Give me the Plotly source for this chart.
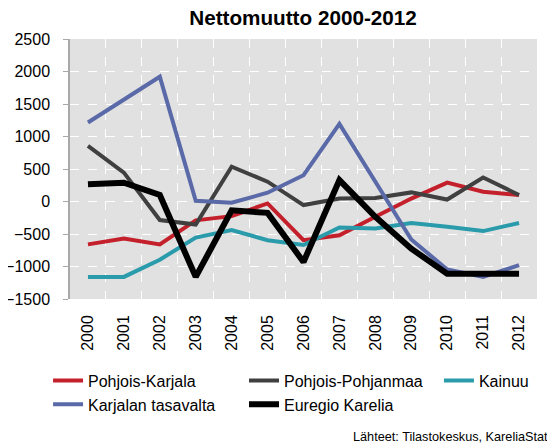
import plotly.graph_objects as go

years = ["2000", "2001", "2002", "2003", "2004", "2005", "2006",
         "2007", "2008", "2009", "2010", "2011", "2012"]

pohjois_karjala = [-660, -570, -660, -290, -225, -30, -595, -520, -235, 45, 290, 150, 100]
pohjois_pohjanmaa = [855, 445, -285, -355, 535, 305, -55, 45, 55, 140, 30, 370, 100]
kainuu = [-1160, -1160, -895, -555, -440, -595, -670, -400, -415, -330, -390, -455, -330]
karjalan_tasavalta = [1215, 1565, 1920, 10, -20, 135, 405, 1195, 305, -585, -1045, -1160, -980]
euregio_karelia = [265, 290, 100, -1160, -135, -175, -930, 330, -235, -725, -1110, -1110, -1110]

series = [
    ("Pohjois-Karjala", pohjois_karjala, "#c4202b", 4, "legend"),
    ("Pohjois-Pohjanmaa", pohjois_pohjanmaa, "#404040", 4, "legend2"),
    ("Kainuu", kainuu, "#2a9bab", 4, "legend3"),
    ("Karjalan tasavalta", karjalan_tasavalta, "#5a69a8", 4, "legend"),
    ("Euregio Karelia", euregio_karelia, "#000000", 6, "legend2"),
]

fig = go.Figure()
for name, vals, color, w, lg in series:
    fig.add_trace(go.Scatter(
        x=years, y=vals, mode="lines", name=name,
        line=dict(color=color, width=w), legend=lg,
    ))

font = "Liberation Sans, Arial, Helvetica, sans-serif"
W, H = 547, 440
PW, PH = 467, 260
legend_common = dict(
    orientation="v", yanchor="top", xanchor="left",
    font=dict(size=16, color="black", family=font),
    bgcolor="rgba(0,0,0,0)", tracegroupgap=0, itemwidth=30,
)
ly = -0.262 + 3.5 / PH
fig.update_layout(
    width=W, height=H,
    margin=dict(l=62, r=18, t=31, b=149, autoexpand=False),
    paper_bgcolor="white", plot_bgcolor="#e1e1e1",
    font=dict(family=font, size=16, color="black"),
    title=dict(text="<b>Nettomuutto 2000-2012</b>", x=(295 - 0) / W, xanchor="center",
               y=1 - 10 / H, yanchor="middle",
               font=dict(size=20.7, family=font, color="black")),
    showlegend=True,
    legend=dict(x=-0.047, y=ly, **legend_common),
    legend2=dict(x=0.3726, y=ly, **legend_common),
    legend3=dict(x=0.790, y=ly, **legend_common),
    xaxis=dict(
        type="category", tickson="boundaries", ticks="", range=[-0.5, 12.5],
        showgrid=True, gridcolor="white", griddash="dash", gridwidth=1,
        tickangle=-90, tickfont=dict(size=16, family=font, color="black"),
        showline=False, zeroline=False, ticklabelstandoff=12, automargin=False,
    ),
    yaxis=dict(
        range=[-1500, 2500], dtick=500, tick0=0,
        showgrid=True, gridcolor="white", griddash="dash", gridwidth=1,
        zeroline=False, showline=True, linecolor="#a8a8a8", linewidth=1.5,
        ticks="outside", ticklen=5, tickcolor="#a8a8a8",
        tickfont=dict(size=16, family=font, color="black"),
        ticklabelstandoff=10, automargin=False,
    ),
    annotations=[dict(
        text="Lähteet: Tilastokeskus, KareliaStat", xref="paper", yref="paper",
        x=(550 - 70) / PW, y=-(437 - 299) / PH, xanchor="right", yanchor="middle",
        showarrow=False, font=dict(size=12.7, family=font, color="black"),
    )],
)

fig.write_html("out.html")
